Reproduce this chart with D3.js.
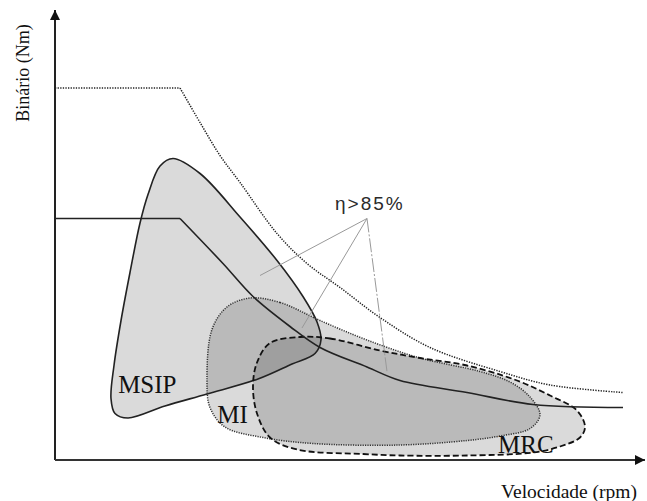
<!DOCTYPE html>
<html lang="pt">
  <head>
    <meta charset="utf-8" />
    <title>binario vs velocidade</title>
    <script src="https://d3js.org/d3.v7.min.js"></script>
    <style>
      body {
        padding: 0;
        margin: 0;
        background: #fff;
      }
      svg {
        display: block;
      }
      .serif {
        font-family: "Liberation Serif", "Times New Roman", serif;
        fill: #111;
      }
      .region {
        fill: #000;
        fill-opacity: 0.145;
      }
    </style>
  </head>
  <body>
    <svg id="chart" width="647" height="501"></svg>

    <script>
      // data: speed (rpm), torque (Nm)
      var envelopeFlat = [[0, 248], [2119, 248]];
      var envelopeFall = [[2119, 248], [2458, 225], [2797, 203], [3136, 185], [3763, 151],
        [4271, 131], [4831, 115], [5508, 95], [6356, 75], [7542, 59], [8390, 50], [9627, 45]];

      var torqueFlat = [[0, 161], [2119, 161]];
      var torqueFall = [[2119, 161], [2847, 131], [3356, 109], [3983, 89], [4492, 75],
        [5288, 62], [5847, 53], [6983, 45], [8102, 37], [9627, 35]];

      var msip = [[2000, 201], [2458, 191], [3136, 162], [3763, 133], [4203, 109], [4441, 92],
        [4508, 80], [4407, 71], [4017, 64], [3441, 54], [2576, 44], [1864, 36], [1237, 28],
        [1017, 31], [949, 41], [1000, 63], [1119, 93], [1271, 125], [1441, 158], [1576, 177],
        [1780, 196]];

      var mi = [[3305, 108], [3814, 105], [4492, 93], [5288, 80], [6186, 68], [7203, 59],
        [7712, 52], [8051, 42], [8220, 30], [8051, 21], [7542, 16], [6983, 13], [5847, 10],
        [4373, 11], [3525, 15], [2881, 22], [2627, 35], [2576, 53], [2661, 87], [2915, 102]];

      var mrc = [[4153, 82], [4661, 81], [5508, 73], [6186, 68], [6983, 63], [7831, 53],
        [8390, 43], [8847, 33], [8983, 22], [8898, 15], [8559, 9], [8102, 5], [6983, 3],
        [5847, 3], [5220, 4], [4102, 7], [3644, 15], [3424, 31], [3356, 49], [3424, 65],
        [3644, 78]];

      var etaApex = [5288, 161];
      var etaTargets = [[3475, 123], [4186, 88], [5627, 59]];

      var regionLabels = [
        {name: "MSIP", at: [1070, 45]},
        {name: "MI", at: [2750, 25]},
        {name: "MRC", at: [7510, 5]}
      ];

      var svg = d3.select("#chart");

      var x = d3.scaleLinear().domain([0, 10000]).range([55, 645]);
      var y = d3.scaleLinear().domain([0, 300]).range([460, 10]);

      var straight = d3.line()
        .x(function(d){ return x(d[0]); })
        .y(function(d){ return y(d[1]); });
      var smooth = d3.line()
        .x(function(d){ return x(d[0]); })
        .y(function(d){ return y(d[1]); })
        .curve(d3.curveCatmullRom.alpha(0.5));
      var loop = d3.line()
        .x(function(d){ return x(d[0]); })
        .y(function(d){ return y(d[1]); })
        .curve(d3.curveCatmullRomClosed.alpha(0.5));

      // arrow heads
      svg.append("defs")
        .append("marker")
        .attr("id", "arrow")
        .attr("viewBox", "0 0 10 10")
        .attr("refX", 10)
        .attr("refY", 5)
        .attr("markerUnits", "userSpaceOnUse")
        .attr("markerWidth", 11)
        .attr("markerHeight", 10)
        .attr("orient", "auto")
        .append("path")
        .attr("d", "M0,0L10,5L0,10z")
        .attr("fill", "#111");

      // region fills
      [msip, mi, mrc].forEach(function(r){
        svg.append("path")
          .attr("class", "region")
          .attr("d", loop(r));
      });

      // region outlines
      svg.append("path")
        .attr("d", loop(msip))
        .attr("fill", "none")
        .attr("stroke", "#222")
        .attr("stroke-width", 1.6);
      svg.append("path")
        .attr("d", loop(mi))
        .attr("fill", "none")
        .attr("stroke", "#333")
        .attr("stroke-width", 1.5)
        .attr("stroke-dasharray", "1.2,1.2");
      svg.append("path")
        .attr("d", loop(mrc))
        .attr("fill", "none")
        .attr("stroke", "#111")
        .attr("stroke-width", 1.8)
        .attr("stroke-dasharray", "6,3");

      // torque / speed limits
      [envelopeFlat, envelopeFall].forEach(function(seg, i){
        svg.append("path")
          .attr("d", (i == 0 ? straight : smooth)(seg))
          .attr("fill", "none")
          .attr("stroke", "#222")
          .attr("stroke-width", 1.5)
          .attr("stroke-dasharray", "1.3,1.3");
      });
      [torqueFlat, torqueFall].forEach(function(seg, i){
        svg.append("path")
          .attr("d", (i == 0 ? straight : smooth)(seg))
          .attr("fill", "none")
          .attr("stroke", "#222")
          .attr("stroke-width", 1.6);
      });

      // efficiency pointers
      etaTargets.forEach(function(t, i){
        svg.append("path")
          .attr("d", straight([etaApex, t]))
          .attr("fill", "none")
          .attr("stroke", "#999")
          .attr("stroke-width", 1)
          .attr("stroke-dasharray", i == 2 ? "14,2,2,2" : null);
      });
      svg.append("text")
        .attr("x", x(etaApex[0]) - 32)
        .attr("y", y(etaApex[1]) - 9)
        .attr("font-family", "'Liberation Sans', Arial, sans-serif")
        .attr("font-size", 19)
        .attr("letter-spacing", 2)
        .attr("fill", "#2a2a2a")
        .text("η>85%");

      // region labels
      svg.selectAll(".rlabel")
        .data(regionLabels)
        .enter()
        .append("text")
        .attr("class", "rlabel serif")
        .attr("x", function(d){ return x(d.at[0]); })
        .attr("y", function(d){ return y(d.at[1]); })
        .attr("font-size", 25)
        .text(function(d){ return d.name; });

      // axes
      svg.append("line")
        .attr("x1", x(0)).attr("y1", y(0))
        .attr("x2", x(0)).attr("y2", y(300))
        .attr("stroke", "#222")
        .attr("stroke-width", 2)
        .attr("marker-end", "url(#arrow)");
      svg.append("line")
        .attr("x1", x(0)).attr("y1", y(0))
        .attr("x2", x(10000)).attr("y2", y(0))
        .attr("stroke", "#333")
        .attr("stroke-width", 2)
        .attr("marker-end", "url(#arrow)");

      svg.append("text")
        .attr("class", "serif")
        .attr("transform", "translate(29,73) rotate(-90)")
        .attr("text-anchor", "middle")
        .attr("font-size", 18)
        .text("Binário (Nm)");
      svg.append("text")
        .attr("class", "serif")
        .attr("x", 637)
        .attr("y", 498)
        .attr("text-anchor", "end")
        .attr("font-size", 19.5)
        .text("Velocidade (rpm)");
    </script>
  </body>
</html>
